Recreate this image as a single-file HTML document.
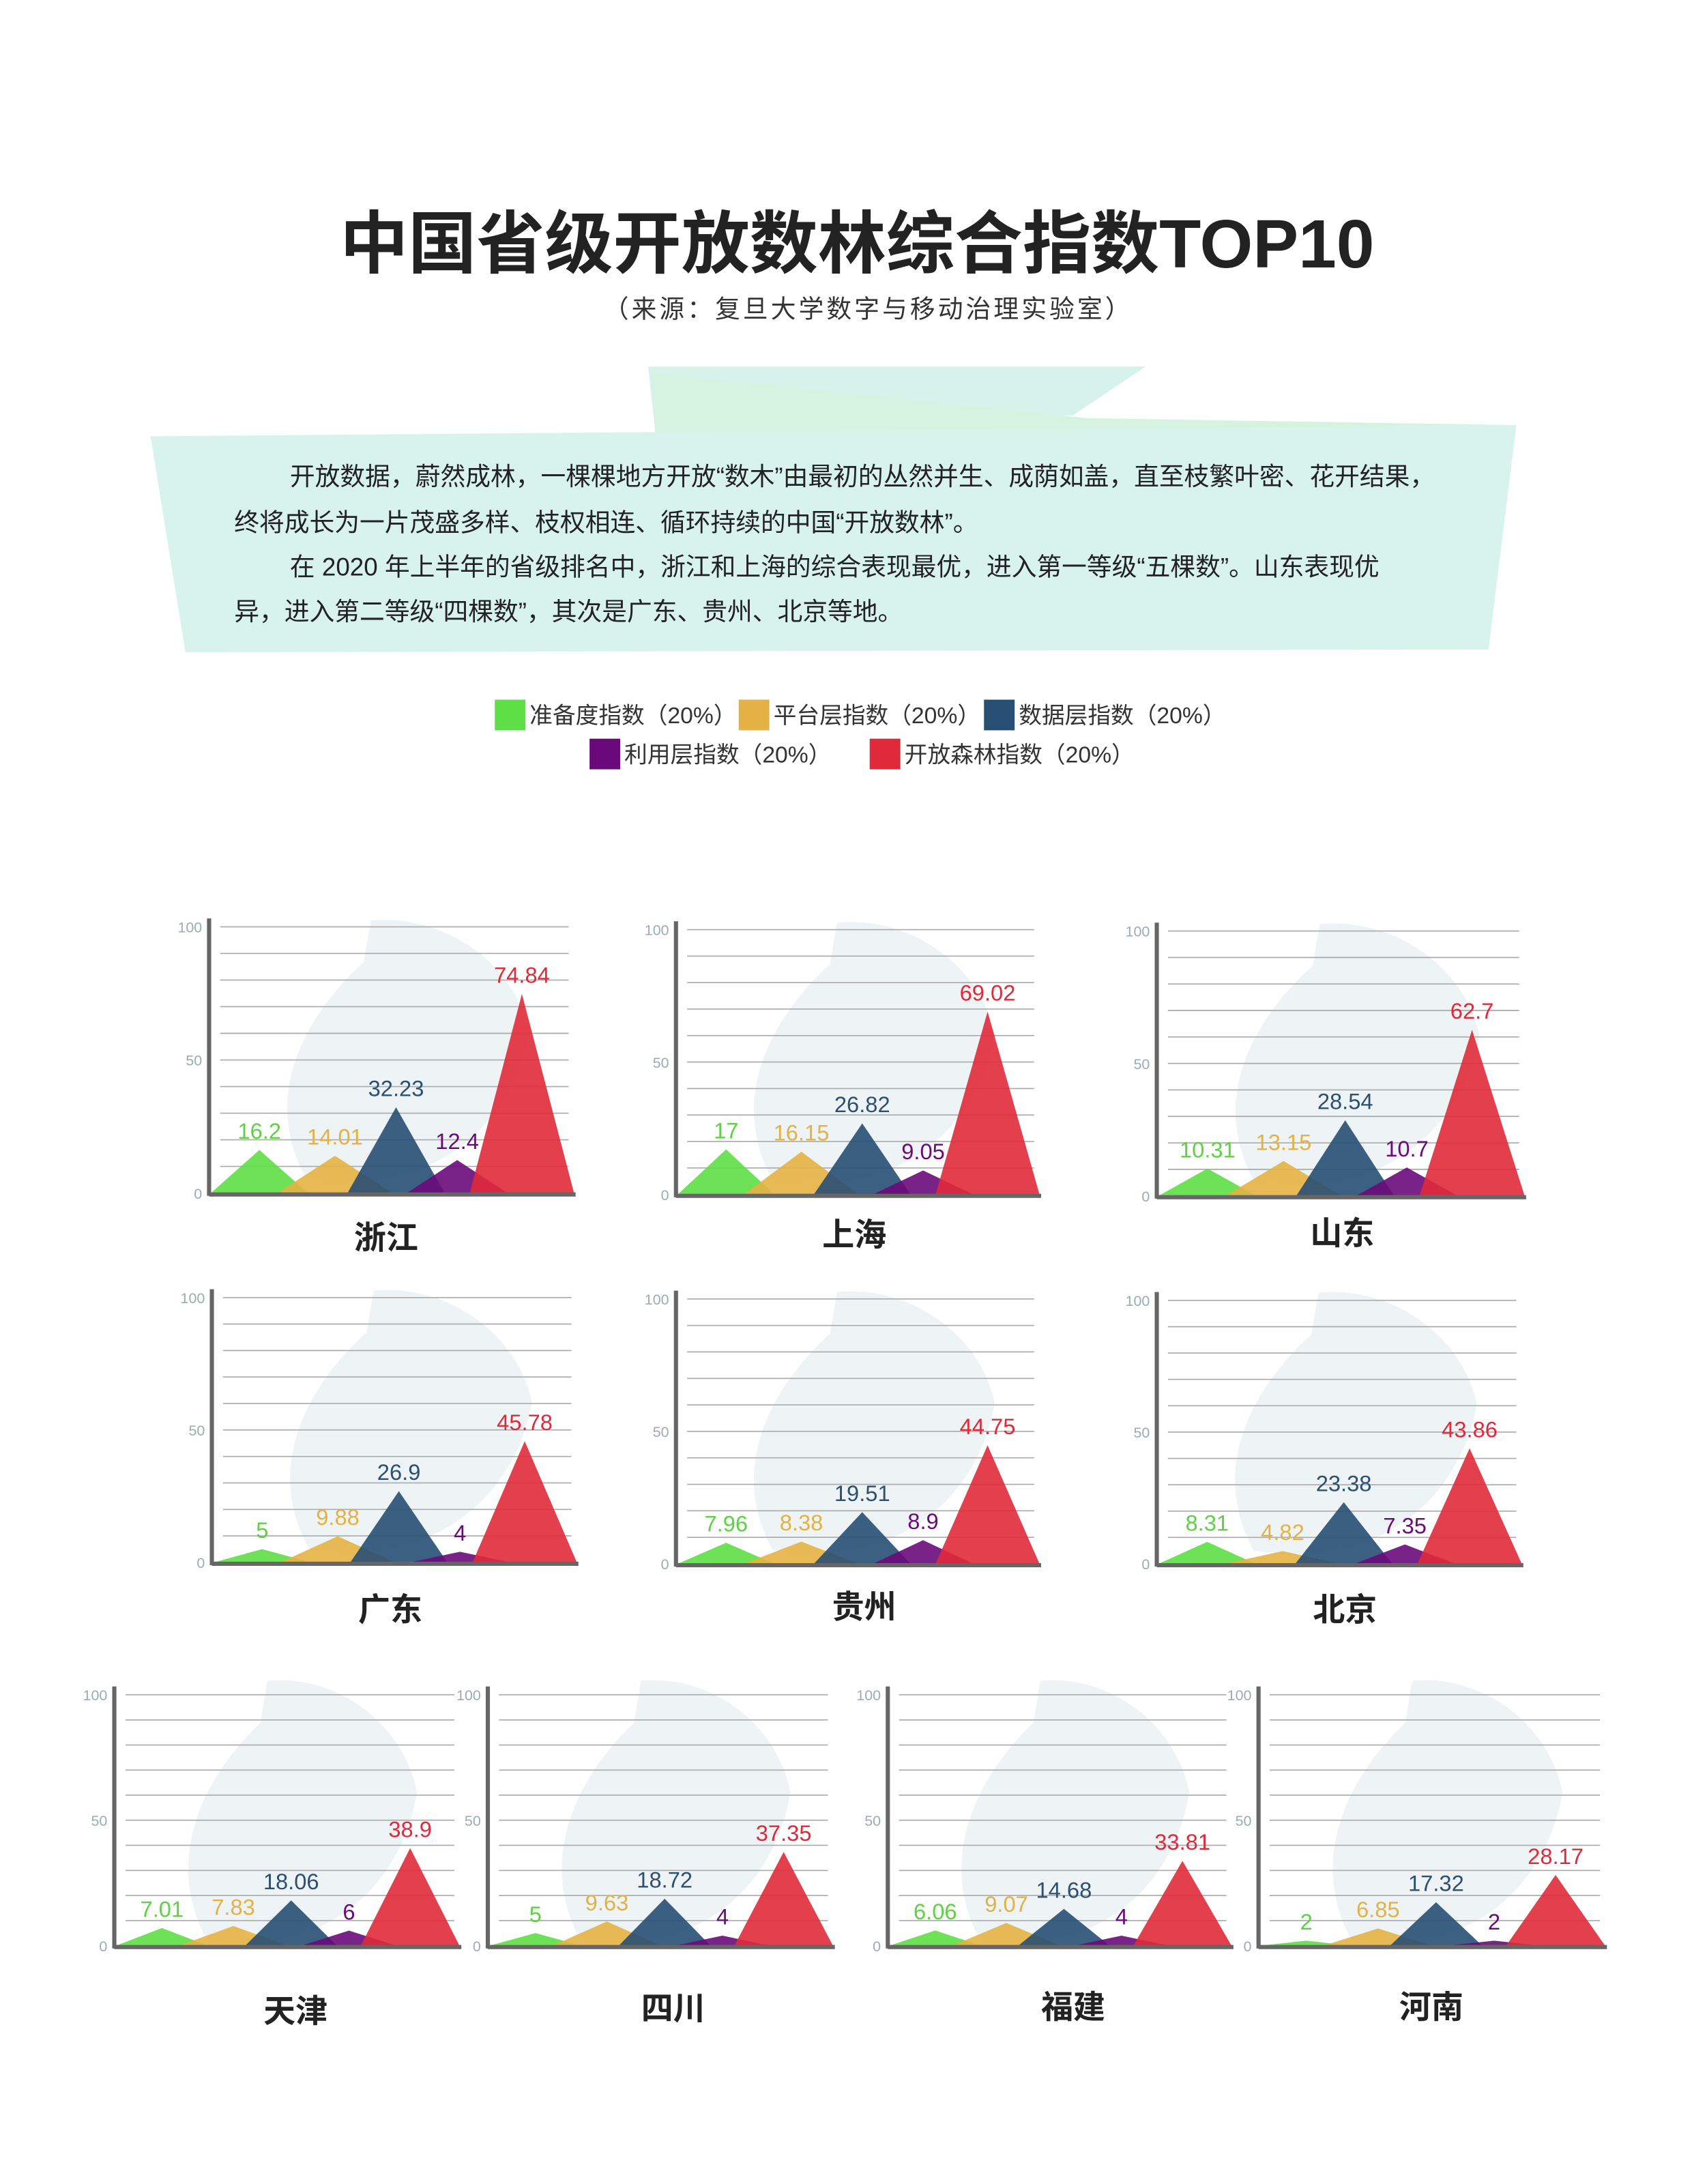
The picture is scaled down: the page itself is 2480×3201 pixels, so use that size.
<!DOCTYPE html>
<html><head><meta charset="utf-8">
<style>
html,body{margin:0;padding:0;background:#fff;}
svg{display:block;}
text{font-family:"Liberation Sans","Noto Sans CJK SC",sans-serif;}
</style></head>
<body>
<svg id="root" width="2480" height="3201" viewBox="0 0 1214 1567" xmlns="http://www.w3.org/2000/svg">
  <rect x="0" y="0" width="1214" height="1567" fill="#ffffff"/>
  <text x="615" y="192" text-anchor="middle" font-size="49" font-weight="bold" fill="#222">中国省级开放数林综合指数TOP10</text>
  <text x="623" y="228" text-anchor="middle" font-size="18" fill="#333" letter-spacing="2">（来源：复旦大学数字与移动治理实验室）</text>
  <g>
    <polygon points="465,263 822,263 770,298 470,308" fill="#d7f2ea"/>
    <polygon points="468,268 780,300 1088,305 470,312" fill="#d6f2e1"/>
    <polygon points="108,313 1088,305 1068,466 133,468" fill="#d8f3ec"/>
    <text font-size="18" fill="#222">
      <tspan x="208" y="348">开放数据，蔚然成林，一棵棵地方开放“数木”由最初的丛然并生、成荫如盖，直至枝繁叶密、花开结果，</tspan>
      <tspan x="168" y="381">终将成长为一片茂盛多样、枝权相连、循环持续的中国“开放数林”。</tspan>
      <tspan x="208" y="413">在 2020 年上半年的省级排名中，浙江和上海的综合表现最优，进入第一等级“五棵数”。山东表现优</tspan>
      <tspan x="168" y="445">异，进入第二等级“四棵数”，其次是广东、贵州、北京等地。</tspan>
    </text>
  </g>
  <g>
    <rect x="355" y="502" width="22" height="22" fill="#5ddf45"/>
    <text x="380" y="519" font-size="16.5" fill="#333">准备度指数（20%）</text>
    <rect x="530" y="502" width="22" height="22" fill="#e4b244"/>
    <text x="555" y="519" font-size="16.5" fill="#333">平台层指数（20%）</text>
    <rect x="706" y="502" width="22" height="22" fill="#274f74"/>
    <text x="731" y="519" font-size="16.5" fill="#333">数据层指数（20%）</text>
    <rect x="423" y="530" width="22" height="22" fill="#6a0a7a"/>
    <text x="448" y="547" font-size="16.5" fill="#333">利用层指数（20%）</text>
    <rect x="624" y="530" width="22" height="22" fill="#e02a3a"/>
    <text x="649" y="547" font-size="16.5" fill="#333">开放森林指数（20%）</text>
  </g>
  <g id="charts"></g>
</svg>
<script>
var provinces = ["浙江","上海","山东","广东","贵州","北京","天津","四川","福建","河南"];
var readiness = [16.2,17,10.31,5,7.96,8.31,7.01,5,6.06,2];
var platform = [14.01,16.15,13.15,9.88,8.38,4.82,7.83,9.63,9.07,6.85];
var dataLayer = [32.23,26.82,28.54,26.9,19.51,23.38,18.06,18.72,14.68,17.32];
var usage = [12.4,9.05,10.7,4,8.9,7.35,6,4,4,2];
var forest = [74.84,69.02,62.7,45.78,44.75,43.86,38.9,37.35,33.81,28.17];
var yTicks = [0,50,100];

var layout = [
  {ax:150,base:856,top:665,right:408,lx:277,ly:896},
  {ax:485,base:857,top:667,right:742,lx:613,ly:894},
  {ax:830,base:858,top:668,right:1090,lx:963,ly:893},
  {ax:152,base:1121,top:931,right:410,lx:280,ly:1163},
  {ax:485,base:1122,top:932,right:742,lx:620,ly:1161},
  {ax:830,base:1122,top:933,right:1088,lx:965,ly:1163},
  {ax:82,base:1396,top:1216,right:326,lx:212,ly:1451},
  {ax:350,base:1396,top:1216,right:594,lx:483,ly:1449},
  {ax:637,base:1396,top:1216,right:880,lx:770,ly:1448},
  {ax:903,base:1396,top:1216,right:1148,lx:1027,ly:1448}
];
var series = [readiness,platform,dataLayer,usage,forest];
var fills = ["#5ddf45","#e4b244","#274f74","#6a0a7a","#e02a3a"];
var labelColors = ["#5fd145","#e4b244","#2b5070","#6a0a7a","#e02a3a"];
var seriesKeys = ["readiness","platform","data","usage","forest"];
var centers = [0.14,0.35,0.52,0.69,0.87];
var halfW = [0.135,0.16,0.135,0.14,0.145];
var NS="http://www.w3.org/2000/svg";
var root=document.getElementById('charts');
function mk(tag,attrs,parent){var e=document.createElementNS(NS,tag);for(var k in attrs)e.setAttribute(k,attrs[k]);parent.appendChild(e);return e;}

provinces.forEach(function(p,i){
  var L=layout[i];
  var W=L.right-L.ax;
  function yS(v){return L.base-(L.base-L.top)*v/100;}
  function xS(f){return L.ax+W*f;}
  var g=mk('g',{},root);
  
  
  var bx=L.ax+W*0.55, by=(L.top+L.base)/2;
  var blob=mk('path',{d:'M'+(bx-W*0.28)+','+(by+85)+' C'+(bx-W*0.42)+','+(by+20)+' '+(bx-W*0.25)+','+(by-40)+' '+(bx-W*0.12)+','+(by-70)+' L'+(bx-W*0.1)+','+(by-100)+' C'+(bx+W*0.1)+','+(by-105)+' '+(bx+W*0.3)+','+(by-70)+' '+(bx+W*0.34)+','+(by-20)+' C'+(bx+W*0.3)+','+(by+40)+' '+(bx+W*0.1)+','+(by+100)+' '+(bx-W*0.28)+','+(by+85)+'Z',fill:'#eef3f6'},g);
  
  
  for(var t=10;t<=100;t+=10){
    var gl=mk('line',{x1:L.ax+8,x2:L.right,y1:yS(t),y2:yS(t),stroke:'#aaa','stroke-width':0.8},g);
    
    
  }
  yTicks.forEach(function(tv){
    var tl=mk('text',{x:L.ax-5,y:yS(tv)+4,'text-anchor':'end','font-size':10.5,fill:'#9aacb4'},g);
    tl.textContent=tv;
    
    
  });
  var ya=mk('line',{x1:L.ax,x2:L.ax,y1:L.top-6,y2:L.base+2,stroke:'#666','stroke-width':3},g);
  
  
  series.forEach(function(s,k){
    var v=s[i], cx=xS(centers[k]), hw=W*halfW[k];
    var tri=mk('polygon',{points:(cx-hw)+','+L.base+' '+cx+','+yS(v)+' '+(cx+hw)+','+L.base,fill:fills[k],'fill-opacity':0.9},g);
    
    
    var lb=mk('text',{x:cx,y:yS(v)-8,'text-anchor':'middle','font-size':16,fill:labelColors[k]},g);
    lb.textContent=v;
    
    
  });
  var xa=mk('line',{x1:L.ax,x2:L.right+5,y1:L.base+1,y2:L.base+1,stroke:'#666','stroke-width':3},g);
  
  
  var pl=mk('text',{x:L.lx,y:L.ly,'text-anchor':'middle','font-size':23,'font-weight':'bold',fill:'#222'},g);
  pl.textContent=p;
  
  
});
</script>
</body></html>
